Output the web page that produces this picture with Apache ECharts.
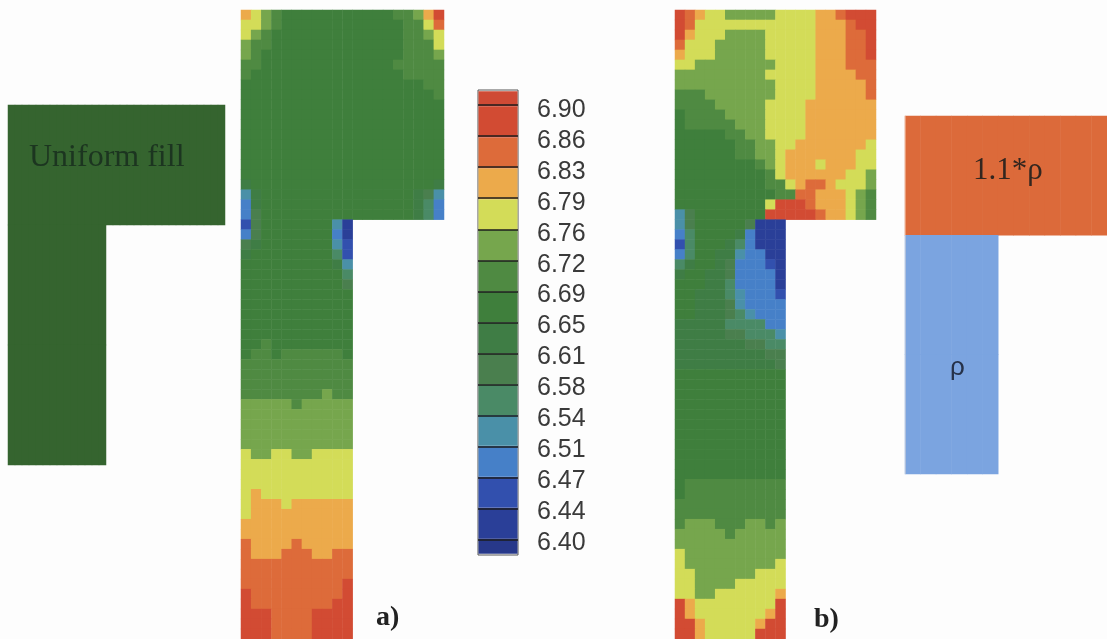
<!DOCTYPE html>
<html><head><meta charset="utf-8">
<style>html,body{margin:0;padding:0;background:#fdfdfd}#c{width:1107px;height:639px}</style>
<script src="https://cdn.jsdelivr.net/npm/echarts@6/dist/echarts.min.js"></script>
</head><body><div id="c"></div>
<script>
// Colour-bar tick labels, top to bottom
const tickLabels = ['6.90','6.86','6.83','6.79','6.76','6.72','6.69','6.65','6.61','6.58','6.54','6.51','6.47','6.44','6.40'];
// Band colours, lowest band first (below 6.40 ... above 6.90)
const bandColors = ['#27388a','#2a3f98','#3250ae','#4680c8','#4a90a8','#4a8a66','#4a7f4e','#3f7d45','#3f7f3c','#4f8a42','#76a64d','#d3dc58','#ecaa4b','#dd6b3a','#d24b33','#cf4a35'];
const bandChars = '0123456789ABCDEF';
// Relative bar height of each colour-bar band, lowest first
const bandHeights = [0.5,1,1,1,1,1,1,1,1,1,1,1,1,1,1,0.5];

// Panel a) cell levels, one string per row, top to bottom
const panelA = [
'CBA98888888888899ACE',
'BBA988888888888899BD',
'BA9888888888888899AB',
'A998888888888888999B',
'A988888888888888999A',
'99888888888888899999',
'98888888888888889999',
'88888888888888888899',
'88888888888888888889',
'88888888888888888888',
'88888888888888888888',
'88888888888888888888',
'88888888888888888888',
'88888888888888888888',
'88888888888888888888',
'88888888888888888888',
'88888888888888888888',
'78888888888888888887',
'47888888888888888764',
'37888888888888888753',
'36888888888888888753',
'26888888841','36888888831','67888888842','78888888852','88888888874','88888888885','88888888886',
'88888888888','88888888888','88888888888','88888888888','88888888888',
'88988888888','89989999998','99999999999','99999999999','99999999999','99999999A99','AAAAA9AAAAA',
'AAAAAAAAAAA','AAAAAAAAAAA','AAAAAAAAAAA','AAAAAAAAAAA','BAABBAABBBB','BBBBBBBBBBB','BBBBBBBBBBB','BBBBBBBBBBB',
'BCBBBBBBBBB','BCCCBCCCCCC','BCCCCCCCCCC','CCCCCCCCCCC','CCCCCCCCCCC','DCCCCDCCCCC','DCCCDDDCCDD',
'DDDDDDDDDDD','DDDDDDDDDDD','DDDDDDDDDDE','EDDDDDDDDDE','EDDDDDDDDEE','EEEDDDDEEEE','EEEDDDDEEEE','EEEDDDDEEEE'
];
// Panel b) cell levels
const panelB = [
'EDCBBAAAAABBBBCCDEEE',
'EDBBBBBBBBBBBBCCCDEE',
'ECBBBAAAABBBBBCCCDDE',
'DBBBAAAAABBBBBCCCDDE',
'CBBBAAAAABBBBBCCCDDE',
'BBAAAAAAAABBBBCCCDDD',
'AAAAAAAAABBBBBCCCCDD',
'AAAAAAAAAABBBBCCCCCD',
'999AAAAAAABBBBCCCCCD',
'9999AAAAABBBBCCCCCCC',
'89999AAAABBBBCCCCCCC',
'899999AAABBBBCCCCCCC',
'8888899AABBBBCCCCCCC',
'88888899AABBCCCCCCCB',
'88888899AABCCCCCCCBB',
'888888889ABCCCBCCCBB',
'8888888889BCCCCCCBBA',
'88888888899BCDDCBBBA',
'888888888899DDCCCBA9',
'888888888BEEEDCCCBA9',
'468888888EEEEEDCCBA9',
'46888886111','35888873111','25888753111','35887743311','57887633321','78877633331','88877533331','88777543332','88777643333','88777654333',
'77777555533','77777665554','77777776655','77777777766','77777777776',
'88888888888','88888888888','88888888888','88888888888','88888888888','88888888888','88888888888','88888888888','88888888888','88888888888','88888888888',
'89999999999','89999999999','99999999999','99999999999','9AAA999AA9A','AAAAA9AAAAA','AAAAAAAAAAA','BAAAAAAAAAA','BAAAAAAAAAB',
'BBAAAAAABBB','BBAAAABBBBB','BBAABBBBBBC','ECBBBBBBBBE','ECBBBBBBBCE','EECBBBBBCEE','EECBBBBBEEE'
];
// Left uniform L-shape and right two-density shape, as coarse cell rows
const uniformShape = [
'UUUUUUUUUUUUUUUUUUUUUUUUUUUUUUU',
'UUUUUUUUUUUUUU.................',
'UUUUUUUUUUUUUU.................'
];
const densityShape = ['HHHHHHHHHHHHH','LLLLLL.......','LLLLLL.......'];

const toLevels = rows => {
  const out = [];
  rows.forEach((r,y) => [...r].forEach((ch,x) => { const l = bandChars.indexOf(ch); if (l >= 0) out.push([x,y,l]); }));
  return out;
};
const toShape = (rows,map) => {
  const out = [];
  rows.forEach((r,y) => [...r].forEach((ch,x) => { if (ch in map) out.push([x,y,map[ch]]); }));
  return out;
};
const idx = n => Array.from({length:n},(_,i)=>String(i));
const hiddenCat = (n,gridIndex,extra) => Object.assign({type:'category',data:idx(n),gridIndex,show:false},extra||{});

const chart = echarts.init(document.getElementById('c'),null,{renderer:'canvas'});
const T = (text,left,top,font,size,weight,color) => ({text,left,top,padding:0,textStyle:{fontFamily:font,fontSize:size,fontWeight:weight||'normal',color:color||'#2a2a2a'}});

const opt = {
  backgroundColor:'#fdfdfd',
  animation:false,
  tooltip:{show:false},
  title:[
    T('Uniform fill',29,142,'Liberation Serif',32,'normal','#1c3520'),
    T('1.1*ρ',973,155,'Liberation Serif',31,'normal','#33261f'),
    T('ρ',950,355,'Liberation Sans',26,'normal','#26324a'),
    T('a)',376,604,'Liberation Serif',28,'bold','#222'),
    T('b)',814,606,'Liberation Serif',28,'bold','#222')
  ],
  grid:[
    {left:241,top:10,width:203,height:629},
    {left:675,top:10,width:201,height:629},
    {left:8,top:105,width:217,height:360},
    {left:905,top:116,width:202,height:358},
    {left:478,top:90,width:40,height:465,show:true,borderColor:'#555',borderWidth:1,backgroundColor:'transparent'},
    {left:478,top:105,width:40,height:435},
    {left:478,top:110,width:40,height:433}
  ],
  xAxis:[
    hiddenCat(20,0),hiddenCat(20,1),hiddenCat(31,2),
    {type:'category',data:idx(13),gridIndex:3,z:5,axisLine:{show:false},axisTick:{show:false},axisLabel:{show:false},
      splitLine:{show:true,interval:i=>i===5,lineStyle:{color:'rgba(255,235,215,0.4)',width:1}}},
    {type:'category',data:['bar'],gridIndex:4,show:false},
    {type:'value',gridIndex:5,show:false},
    {type:'value',gridIndex:6,show:false}
  ],
  yAxis:[
    hiddenCat(63,0,{inverse:true}),hiddenCat(63,1,{inverse:true}),hiddenCat(3,2,{inverse:true}),hiddenCat(3,3,{inverse:true}),
    {type:'value',gridIndex:4,show:false,min:-0.04,max:15.04},
    {type:'category',gridIndex:5,inverse:true,boundaryGap:false,data:tickLabels,z:6,
      axisLine:{show:false},axisTick:{show:false},axisLabel:{show:false},
      splitLine:{show:true,interval:0,lineStyle:{color:'#1c1c1c',width:1.5}}},
    {type:'category',gridIndex:6,inverse:true,boundaryGap:false,data:tickLabels,z:6,
      axisLine:{show:false},axisTick:{show:false},splitLine:{show:false},
      axisLabel:{interval:0,margin:-59,align:'left',color:'#3a3a3a',fontFamily:'Liberation Sans',fontSize:25}}
  ],
  visualMap:[
    {type:'piecewise',show:false,seriesIndex:[0,1],dimension:2,pieces:bandColors.map((c,i)=>({value:i,color:c}))},
    {type:'piecewise',show:false,seriesIndex:2,dimension:2,pieces:[{value:1,color:'#35642f'}]},
    {type:'piecewise',show:false,seriesIndex:3,dimension:2,pieces:[{value:1,color:'#7ba4e0'},{value:1.1,color:'#dc6a3a'}]}
  ],
  series:[
    {type:'heatmap',xAxisIndex:0,yAxisIndex:0,data:toLevels(panelA),silent:true,progressive:0},
    {type:'heatmap',xAxisIndex:1,yAxisIndex:1,data:toLevels(panelB),silent:true,progressive:0},
    {type:'heatmap',xAxisIndex:2,yAxisIndex:2,data:toShape(uniformShape,{U:1}),silent:true,progressive:0},
    {type:'heatmap',xAxisIndex:3,yAxisIndex:3,data:toShape(densityShape,{H:1.1,L:1}),silent:true,progressive:0},
    ...bandColors.map((c,i)=>({type:'bar',xAxisIndex:4,yAxisIndex:4,stack:'bar',barWidth:39,silent:true,data:[bandHeights[i]],itemStyle:{color:c}}))
  ]
};
chart.setOption(opt);
</script></body></html>
